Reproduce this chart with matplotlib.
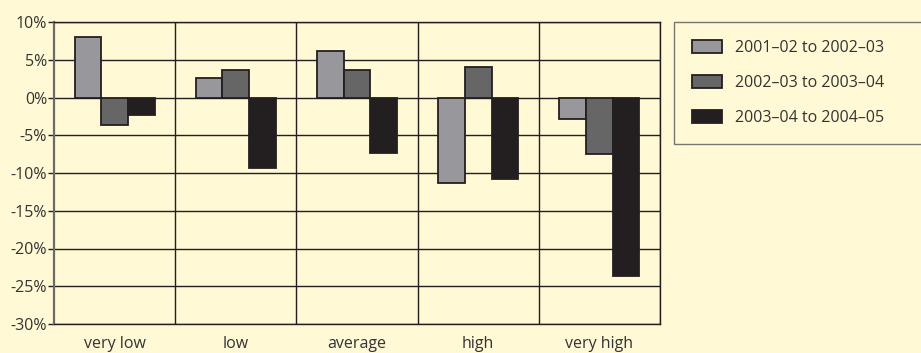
import matplotlib
matplotlib.use("Agg")
import matplotlib.pyplot as plt
from matplotlib.ticker import FuncFormatter
import numpy as np

# Percentage change by category for three consecutive year pairs
categories = ["very low", "low", "average", "high", "very high"]
series_labels = ["2001\u201302 to 2002\u201303",
                 "2002\u201303 to 2003\u201304",
                 "2003\u201304 to 2004\u201305"]
change_0102_0203 = [8.0, 2.6, 6.2, -11.3, -2.8]
change_0203_0304 = [-3.7, 3.7, 3.7, 4.0, -7.5]
change_0304_0405 = [-2.3, -9.4, -7.4, -10.8, -23.6]
y_ticks = [10, 5, 0, -5, -10, -15, -20, -25, -30]

series = [change_0102_0203, change_0203_0304, change_0304_0405]
colors = ["#98989c", "#666667", "#231f20"]
bg = "#fff9d5"
ink = "#231f20"

plt.rcParams["font.family"] = ["Open Sans", "DejaVu Sans"]

fig = plt.figure(figsize=(9.21, 3.53), dpi=100, facecolor=bg)
W, H = 921, 353
ax = fig.add_axes([54 / W, (H - 324) / H, 606 / W, 302 / H])
ax.set_facecolor(bg)

x = np.arange(len(categories))
bw = 0.22
for i, (vals, col, lab) in enumerate(zip(series, colors, series_labels)):
    ax.bar(x + (i - 1) * bw, vals, width=bw, color=col, edgecolor=ink,
           linewidth=1.3, label=lab, zorder=3)

ax.set_xlim(-0.5, len(categories) - 0.5)
ax.set_ylim(-30, 10)
ax.set_yticks(y_ticks)
ax.yaxis.set_major_formatter(FuncFormatter(lambda v, p: f"{v:.0f}%"))
ax.set_xticks(x)
ax.set_xticklabels(categories)

# horizontal grid at each tick, vertical separators between categories
for yv in y_ticks:
    ax.axhline(yv, color=ink, linewidth=1.0, zorder=1)
for xv in np.arange(0.5, len(categories), 1.0):
    ax.axvline(xv, color=ink, linewidth=1.0, zorder=1)

for side in ["top", "right", "bottom"]:
    ax.spines[side].set_color(ink)
    ax.spines[side].set_linewidth(1.0)
ax.spines["left"].set_color("#6b6b6b")
ax.spines["left"].set_linewidth(1.6)

ax.tick_params(axis="y", length=4, width=1.0, color=ink, labelsize=11.5,
               labelcolor="#333333", pad=1)
ax.tick_params(axis="x", length=0, labelsize=11.5, labelcolor="#333333", pad=9)

leg = ax.legend(loc="upper left",
                bbox_to_anchor=(674 / W, 1 - 22 / H, 300 / W, 0.0),
                bbox_transform=fig.transFigure, mode="expand",
                fontsize=11.5, frameon=True, fancybox=False,
                handlelength=1.9, handleheight=0.9, handletextpad=0.8,
                labelspacing=1.2, borderpad=1.1, borderaxespad=0.0)
frame = leg.get_frame()
frame.set_facecolor(bg)
frame.set_edgecolor("#555555")
frame.set_linewidth(1.0)
for t in leg.get_texts():
    t.set_color("#333333")

fig.savefig("out.png", dpi=100, facecolor=bg)
